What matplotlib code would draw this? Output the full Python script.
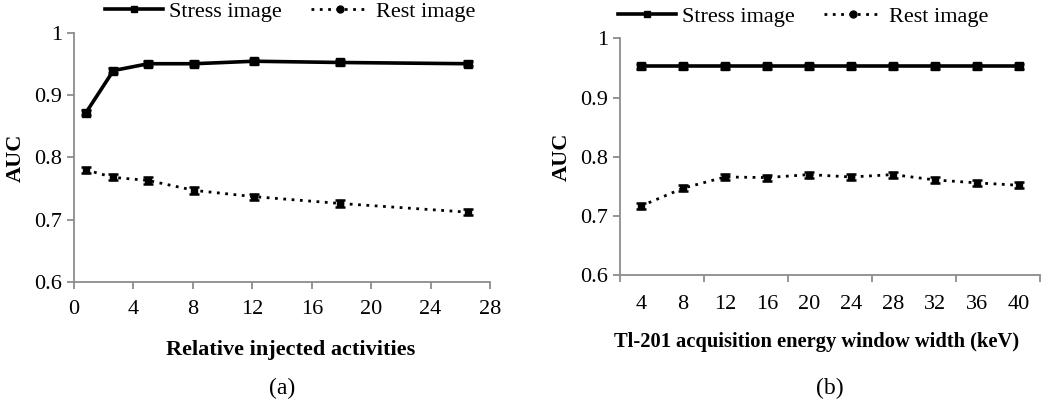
import matplotlib
matplotlib.use("Agg")
import matplotlib.pyplot as plt
from matplotlib.lines import Line2D
import numpy as np

plt.rcParams['font.family'] = ['Liberation Serif', 'DejaVu Serif']

# Panel (a)
act_x = [0.8, 2.65, 5.0, 8.1, 12.1, 17.9, 26.5]
act_stress = [0.872, 0.940, 0.951, 0.951, 0.955, 0.953, 0.951]
act_rest = [0.780, 0.768, 0.763, 0.747, 0.737, 0.726, 0.712]
act_stress_err = [0.004, 0.004, 0.004, 0.004, 0.004, 0.004, 0.004]
act_rest_err = [0.005, 0.005, 0.005, 0.005, 0.005, 0.005, 0.005]

# Panel (b)
win_labels = ['4', '8', '12', '16', '20', '24', '28', '32', '36', '40']
win_stress = [0.953, 0.953, 0.953, 0.953, 0.953, 0.953, 0.953, 0.953, 0.953, 0.953]
win_rest = [0.717, 0.747, 0.766, 0.765, 0.770, 0.766, 0.770, 0.761, 0.756, 0.752]
win_stress_err = [0.004] * 10
win_rest_err = [0.005] * 10

yticks = [0.6, 0.7, 0.8, 0.9, 1.0]
ytick_labels = ['0.6', '0.7', '0.8', '0.9', '1']

fig = plt.figure(figsize=(10.5, 4.04), dpi=100)
axA = fig.add_axes([0.0705, 0.3027, 0.3962, 0.6149])
axB = fig.add_axes([0.5905, 0.3186, 0.4000, 0.5864])

GRAY = '#8c8c8c'
FS = 16

def style(ax):
    for s in ['top', 'right']:
        ax.spines[s].set_visible(False)
    for s in ['left', 'bottom']:
        ax.spines[s].set_color(GRAY)
        ax.spines[s].set_linewidth(1.3)
    ax.tick_params(axis='both', colors=GRAY, labelcolor='black', labelsize=FS,
                   length=5, width=1.3, direction='out')
    ax.set_ylim(0.6, 1.0)
    ax.set_yticks(yticks)
    ax.set_yticklabels(ytick_labels)
    ax.set_ylabel('AUC', fontsize=FS, fontweight='bold', labelpad=6)

def draw(ax, x, s, se, r, re):
    ax.errorbar(x, s, yerr=se, color='black', lw=2.6, marker='s', ms=6,
                capsize=3.5, elinewidth=1.5, capthick=1.8, clip_on=False)
    ax.errorbar(x, r, yerr=re, color='black', lw=2.0, ls=(0, (1, 2)), marker='s', ms=5,
                capsize=3.5, elinewidth=1.5, capthick=1.8, clip_on=False)

h_stress = Line2D([], [], color='black', lw=2.6, marker='s', ms=5, label='Stress image')
h_rest = Line2D([], [], color='black', lw=2.0, ls=(0, (1, 2)), marker='o', ms=5,
                label='Rest image')

# (a)
style(axA)
draw(axA, act_x, act_stress, act_stress_err, act_rest, act_rest_err)
axA.set_xlim(0, 28)
axA.set_xticks(np.arange(0, 29, 4))
axA.tick_params(axis='x', pad=8)
axA.set_xlabel('Relative injected activities', fontsize=FS, fontweight='bold', labelpad=15)
axA.xaxis.label.set_x((291 - 74) / 416)

# (b)
style(axB)
xb = np.arange(len(win_labels))
draw(axB, xb, win_stress, win_stress_err, win_rest, win_rest_err)
axB.set_xlim(-0.5, len(win_labels) - 0.5)
axB.set_xticks(xb)
axB.set_xticklabels(win_labels)
axB.tick_params(axis='x', length=0, pad=14)
axB.set_xticks(np.arange(-0.5, len(win_labels), 2), minor=True)
axB.tick_params(axis='x', which='minor', length=5, width=1.3, colors=GRAY)
axB.set_xlabel('Tl-201 acquisition energy window width (keV)', fontsize=14.8,
               fontweight='bold', labelpad=13)
axB.xaxis.label.set_x((817 - 620) / 420)

leg_kw = dict(loc='center', ncol=2, frameon=False, fontsize=FS, handlelength=2.6,
              columnspacing=1.3, handletextpad=0.3, borderaxespad=0, borderpad=0)
fig.legend(handles=[h_stress, h_rest], bbox_to_anchor=(290 / 1050, 1 - 12 / 404), **leg_kw)
fig.legend(handles=[h_stress, h_rest], bbox_to_anchor=(803 / 1050, 1 - 17 / 404), **leg_kw)

fig.text(282 / 1050, 1 - 388 / 404, '(a)', ha='center', va='center', fontsize=FS + 1)
fig.text(830 / 1050, 1 - 388 / 404, '(b)', ha='center', va='center', fontsize=FS + 1)

fig.savefig('out.png', dpi=100)
